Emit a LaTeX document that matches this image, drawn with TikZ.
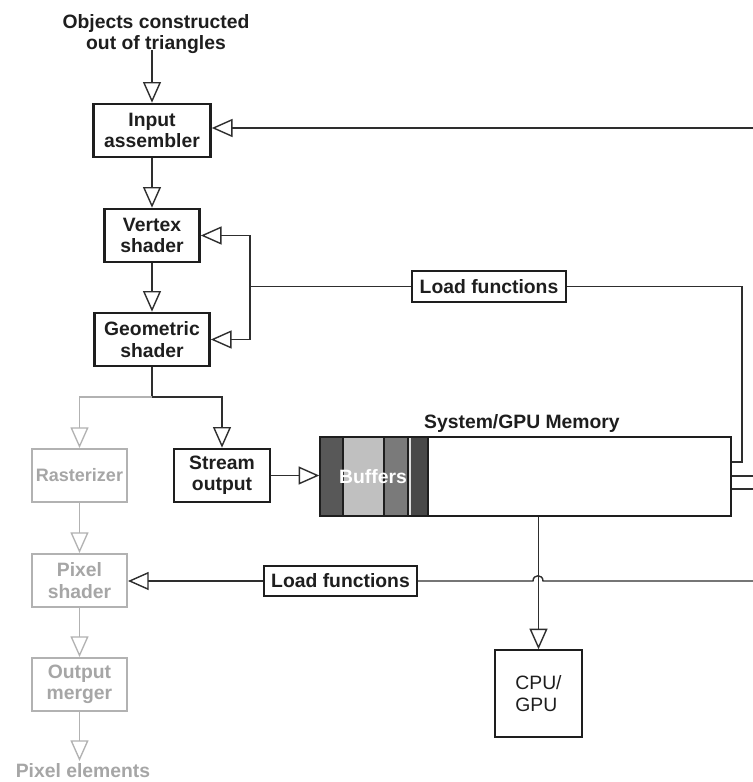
\documentclass[tikz,border=0pt]{standalone}
\usepackage{fontspec}
\setmainfont{Liberation Sans}
\usetikzlibrary{arrows.meta}

\definecolor{ink}{HTML}{1E1E1E}
\definecolor{wire}{HTML}{2E2E2E}
\definecolor{faded}{HTML}{B2B2B2}
\definecolor{fadedtext}{HTML}{A6A6A6}
\definecolor{bufA}{HTML}{585858}
\definecolor{bufB}{HTML}{C0C0C0}
\definecolor{bufC}{HTML}{7A7A7A}
\definecolor{bufD}{HTML}{DCDCDC}
\definecolor{bufE}{HTML}{484848}

\tikzset{
  lbl/.style={font=\fontsize{14.5pt}{16pt}\selectfont\bfseries, align=center, inner sep=0pt, text=ink},
  sz/.style 2 args={minimum width=#1, minimum height=#2},
  stage/.style={lbl, draw=ink, line width=2pt},
  fadedstage/.style={lbl, draw=faded, line width=1.5pt, text=fadedtext},
  thinbox/.style={lbl, draw=ink, line width=1.1pt},
  wireline/.style={draw=wire, line width=1.05pt},
  tri/.style={wireline, -{Triangle[open, length=15.5pt, width=13.5pt]}},
  fadedtri/.style={draw=faded, line width=1pt, -{Triangle[open, length=15.5pt, width=13.5pt]}},
}

\begin{document}
\begin{tikzpicture}[x=0.75pt, y=-0.75pt]
  \fill[white] (0,0) rectangle (753,782);
  \useasboundingbox (0,0) rectangle (753,782);

  % pipeline stages
  \node[lbl] (title) at (156,34) {Objects constructed\\out of triangles};
  \node[stage, sz={87.75pt}{39.75pt}] (ia) at (152,130.5) {Input\\assembler};
  \node[stage, sz={71.25pt}{39.75pt}] (vs) at (152,235.5) {Vertex\\shader};
  \node[stage, sz={86.25pt}{39.75pt}] (gs) at (152,339.5) {Geometric\\shader};
  \node[stage, sz={72pt}{39.75pt}] (so) at (222,475.5) {Stream\\output};

  \node[fadedstage, sz={71.25pt}{39.75pt}, font=\fontsize{13.5pt}{16pt}\selectfont\bfseries] (rs) at (79.5,475.5) {Rasterizer};
  \node[fadedstage, sz={71.25pt}{39.75pt}] (ps) at (79.5,580.5) {Pixel\\shader};
  \node[fadedstage, sz={71.25pt}{39.75pt}] (om) at (79.5,684.5) {Output\\merger};
  \node[lbl, text=fadedtext] (pe) at (83,771) {Pixel elements};

  % load function tags
  \node[thinbox, sz={115.5pt}{23.25pt}] (lf1) at (489,286.5) {Load functions};
  \node[thinbox, sz={114.75pt}{22.5pt}] (lf2) at (340.5,581) {Load functions};

  % memory block with buffer strips
  \fill[bufA] (320,437) rectangle (343,516);
  \fill[bufB] (343,437) rectangle (384,516);
  \fill[bufC] (384,437) rectangle (408,516);
  \fill[bufD] (408,437) rectangle (411,516);
  \fill[bufE] (411,437) rectangle (428,516);
  \foreach \sx in {343,384,408,428}
    \draw[ink, line width=0.8pt] (\sx,437) -- (\sx,516);
  \node[lbl, text=white] (buf) at (373,477) {Buffers};
  \node[thinbox, sz={308.25pt}{59.25pt}] (mem) at (525.5,476.5) {};
  \node[lbl] (memlbl) at (522,423) {System/GPU Memory};

  \node[thinbox, sz={65.25pt}{65.25pt}, font=\fontsize{14.5pt}{17pt}\selectfont, align=left] (cpu) at (538.5,693.5) {CPU/\\GPU};

  % connector end points
  \coordinate (rin) at (753,128);
  \coordinate (j1) at (250,286.5);
  \coordinate (c1) at (742,462);
  \coordinate (o1) at (753,476);
  \coordinate (o2) at (753,489);
  \coordinate (split) at (152,397);
  \coordinate (lfend) at (753,581);

  % main flow
  \draw[tri] (title.south -| ia.north) ++(0,-4) -- (ia.north);
  \draw[tri] (ia.south) -- (vs.north);
  \draw[tri] (vs.south) -- (gs.north);
  \draw[tri] (rin) -- (rin -| ia.east);

  % load functions to shaders
  \draw[wireline] (lf1.west) -- (j1);
  \draw[tri] (j1) |- (vs.east);
  \draw[tri] (j1) |- (gs.east);
  \draw[wireline] (lf1.east) -| (c1) -- (c1 -| mem.east);

  % memory outputs
  \draw[wireline] (o1 -| mem.east) -- (o1);
  \draw[wireline] (o2 -| mem.east) -- (o2);

  % geometry shader split
  \draw[wireline] (gs.south) -- (split);
  \draw[tri] (split) -| (so.north);
  \draw[fadedtri] (split) -| (rs.north);
  \draw[tri] (so.east) -- (so.east -| mem.west);

  % faded pipeline
  \draw[fadedtri] (rs.south) -- (ps.north);
  \draw[fadedtri] (ps.south) -- (om.north);
  \draw[fadedtri, shorten >=2pt] (om.south) -- (om.south |- pe.north);

  % memory to processor
  \draw[tri] (cpu.north |- mem.south) -- (cpu.north);

  % second load functions line, hopping over the memory line
  \draw[tri] (lf2.west) -- (lf2.west -| ps.east);
  \draw[wireline] (lf2.east) -- (533,581) .. controls (533,574) and (543,574) .. (543,581) -- (lfend);
\end{tikzpicture}
\end{document}
